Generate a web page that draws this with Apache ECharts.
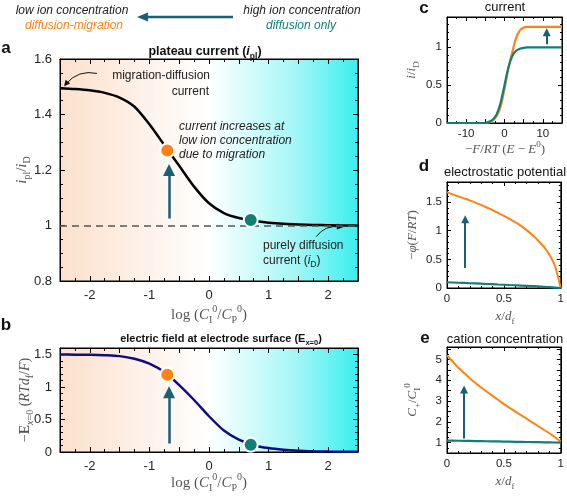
<!DOCTYPE html>
<html><head><meta charset="utf-8">
<script src="https://cdn.jsdelivr.net/npm/echarts@6/dist/echarts.min.js"></script>
<style>html,body{margin:0;padding:0;background:#fff}#c{width:567px;height:497px}</style>
</head><body><div id="c"></div>
<script>
// ---------------- data ----------------
const logRatio = [-2.5,-2.25,-2,-1.75,-1.5,-1.25,-1,-0.75,-0.5,-0.25,0,0.25,0.5,0.75,1,1.25,1.5,1.75,2,2.25,2.5];
const plateauCurrent = [1.495,1.492,1.487,1.478,1.461,1.428,1.365,1.29,1.215,1.14,1.08,1.045,1.027,1.017,1.01,1.006,1.004,1.002,1.001,1.0,1.0];
const surfaceField = [1.5,1.498,1.495,1.488,1.475,1.435,1.36,1.23,1.03,0.8,0.55,0.33,0.19,0.105,0.06,0.035,0.02,0.012,0.007,0.004,0.002];
const lowIonA = [-0.7, 1.27];
const highIonA = [0.7, 1.02];
const lowIonB = [-0.7, 1.19];
const highIonB = [0.7, 0.11];
const diffusionLevel = 1;

const drivingForce = [-15,-14,-13,-12,-11,-10,-9,-8,-7,-6,-5,-4,-3,-2,-1,0,1,2,3,4,5,6,7,8,9,10,11,12,13,14,15];
const currentHigh = [0,0,0,0,0,0,0,0,0,0,0,0.018,0.047,0.12,0.27,0.5,0.73,0.88,0.953,0.982,0.993,0.998,1,1,1,1,1,1,1,1,1];
const currentLow  = [0,0,0,0,0,0,0,0,0,0,0,0.012,0.035,0.095,0.22,0.45,0.72,0.93,1.12,1.22,1.26,1.27,1.27,1.27,1.27,1.27,1.27,1.27,1.27,1.27,1.27];

const distance = [0,0.05,0.1,0.15,0.2,0.25,0.3,0.35,0.4,0.45,0.5,0.55,0.6,0.65,0.7,0.75,0.8,0.85,0.9,0.95,1];
const potentialLow  = [1.67,1.635,1.6,1.565,1.53,1.49,1.45,1.405,1.36,1.31,1.26,1.205,1.15,1.085,1.01,0.925,0.83,0.72,0.58,0.38,0];
const potentialHigh = [0.1,0.096,0.092,0.088,0.083,0.079,0.075,0.07,0.066,0.061,0.057,0.052,0.048,0.043,0.038,0.033,0.027,0.021,0.015,0.008,0];
const cationLow  = [5.2,4.9,4.6,4.35,4.1,3.87,3.65,3.45,3.25,3.05,2.85,2.67,2.5,2.32,2.15,1.97,1.8,1.62,1.45,1.25,1.05];
const cationHigh = [1.1,1.095,1.09,1.085,1.08,1.075,1.07,1.065,1.06,1.055,1.05,1.045,1.04,1.035,1.03,1.025,1.02,1.015,1.01,1.005,1.0];

const arrowA = [[-0.67,1.025],[-0.67,1.2]];
const arrowB = [[-0.67,0.13],[-0.67,0.92]];
const arrowC = [[11,1.04],[11,1.2]];
const arrowD = [[0.16,0.35],[0.16,1.2]];
const arrowE = [[0.15,1.2],[0.15,3.55]];
const pointerMig = [[-1.88,1.548],[-2.4,1.51]];
const pointerDiff = [[1.8,0.96],[2.2,0.995]];

const ticksLog = [-2,-1,0,1,2];
const ticksAY = [0.8,1,1.2,1.4,1.6];
const ticksBY = [0,0.5,1,1.5];
const ticksCX = [-10,0,10];
const ticksCY = [0,0.5,1];
const ticksFrac = [0,0.5,1];
const ticksDY = [0,0.5,1,1.5];
const ticksEY = [1,2,3,4,5];

// ---------------- styles ----------------
const SANS = '"Liberation Sans", Arial, sans-serif';
const SERIF = '"Liberation Serif", "DejaVu Serif", serif';
const MATH = '#555';
const ORANGE = '#ff8214';
const TEAL = '#0f7f78';
const ARROW = '#1a5f78';
const bgGrad = {type:'linear', x:0, y:0, x2:1, y2:0, colorStops:[
  {offset:0, color:'#fce0cc'}, {offset:0.5, color:'#ffffff'}, {offset:0.78, color:'#a8f7f7'}, {offset:1, color:'#3aeeee'}]};

const zip = (xs, ys) => xs.map((x,i)=>[x, ys[i]]);
function labelFor(v, list){ for (const t of list) if (Math.abs(t - v) < 1e-6) return String(t); return ''; }

function axisPair(kind, grid, o){
  const common = {
    gridIndex: grid, type:'value', min:o.min, max:o.max, interval:o.interval,
    axisLine:{show:true, onZero:false, lineStyle:{color:'#000', width:1}},
    axisTick:{show:true, inside:true, length:o.tl||5, lineStyle:{color:'#000', width:1}},
    minorTick:{show:true, splitNumber:o.minor||2, length:o.ml||3, lineStyle:{color:'#000', width:1}},
    splitLine:{show:false}, minorSplitLine:{show:false}
  };
  const main = Object.assign({}, common, {
    position: kind === 'x' ? 'bottom' : 'left',
    axisLabel:{show:true, color:'#222', fontFamily:SANS, fontSize:o.fs, margin:o.margin||6,
      showMinLabel:true, showMaxLabel:true, formatter: v => labelFor(v, o.labels)}
  });
  const mirror = Object.assign({}, common, {position: kind === 'x' ? 'top' : 'right', axisLabel:{show:false}});
  return [main, mirror];
}

const grids = [
  {left:60, top:59, width:298, height:222, show:true, backgroundColor:bgGrad, borderColor:'#000', borderWidth:1},
  {left:60, top:348, width:298, height:104, show:true, backgroundColor:bgGrad, borderColor:'#000', borderWidth:1},
  {left:447, top:17, width:115, height:106, show:true, backgroundColor:'#fff', borderColor:'#000', borderWidth:1},
  {left:447, top:182, width:115, height:106, show:true, backgroundColor:'#fff', borderColor:'#000', borderWidth:1},
  {left:447, top:347, width:115, height:106, show:true, backgroundColor:'#fff', borderColor:'#000', borderWidth:1}
];

const xAxes = [].concat(
  axisPair('x',0,{min:-2.5,max:2.5,interval:0.5,minor:2,labels:ticksLog,fs:13,margin:8,tl:5}),
  axisPair('x',1,{min:-2.5,max:2.5,interval:0.5,minor:2,labels:ticksLog,fs:13,margin:8,tl:5}),
  axisPair('x',2,{min:-15,max:15,interval:5,minor:2,labels:ticksCX,fs:11.5,margin:5,tl:4,ml:2}),
  axisPair('x',3,{min:0,max:1,interval:0.5,minor:5,labels:ticksFrac,fs:11.5,margin:5,tl:4,ml:2}),
  axisPair('x',4,{min:0,max:1,interval:0.5,minor:5,labels:ticksFrac,fs:11.5,margin:5,tl:4,ml:2})
);
const yAxes = [].concat(
  axisPair('y',0,{min:0.8,max:1.6,interval:0.2,minor:4,labels:ticksAY,fs:13,margin:8,tl:5}),
  axisPair('y',1,{min:0,max:1.6,interval:0.5,minor:5,labels:ticksBY,fs:13,margin:8,tl:5}),
  axisPair('y',2,{min:0,max:1.4,interval:0.5,minor:5,labels:ticksCY,fs:11.5,margin:5,tl:4,ml:2}),
  axisPair('y',3,{min:0,max:1.85,interval:0.5,minor:5,labels:ticksDY,fs:11.5,margin:5,tl:4,ml:2}),
  axisPair('y',4,{min:0.5,max:5.6,interval:0.5,minor:2,labels:ticksEY,fs:11.5,margin:5,tl:4,ml:2})
);

function lineSeries(ax, data, color, width, smooth){
  return {type:'line', xAxisIndex:ax, yAxisIndex:ax, data, showSymbol:false, symbol:'none',
    smooth:smooth === undefined ? 0.25 : smooth, lineStyle:{color, width:width||2.5}, z:3, silent:true};
}
function dot(ax, pt, color){
  return {type:'scatter', xAxisIndex:ax, yAxisIndex:ax, data:[pt], symbolSize:14, z:5, silent:true,
    itemStyle:{color, borderColor:'#fff', borderWidth:2, opacity:1}};
}
function arrow(ax, pts, width, head, curveness, color){
  return {type:'lines', coordinateSystem:'cartesian2d', xAxisIndex:ax, yAxisIndex:ax, z:4, silent:true,
    symbol:['none','triangle'], symbolSize:head,
    lineStyle:{color:color||ARROW, width, curveness:curveness||0, opacity:1},
    data:[{coords:pts}]};
}

const series = [
  // panel a
  {type:'line', xAxisIndex:0, yAxisIndex:0, data:[], silent:true,
   markLine:{silent:true, symbol:'none', label:{show:false},
     lineStyle:{color:'#555', type:[7,5], width:1.5}, data:[{yAxis:diffusionLevel}]}},
  lineSeries(0, zip(logRatio, plateauCurrent), '#000', 2.5),
  dot(0, lowIonA, ORANGE),
  dot(0, highIonA, TEAL),
  arrow(0, arrowA, 2.5, 12),
  arrow(0, pointerMig, 1, 6, -0.3, '#111'),
  arrow(0, pointerDiff, 1, 6, 0.3, '#111'),
  // panel b
  lineSeries(2, zip(logRatio, surfaceField), '#0d0d82', 2.5),
  dot(2, lowIonB, ORANGE),
  dot(2, highIonB, TEAL),
  arrow(2, arrowB, 2.5, 12),
  // panel c
  lineSeries(4, zip(drivingForce, currentLow), ORANGE, 2.2),
  lineSeries(4, zip(drivingForce, currentHigh), TEAL, 2.2),
  arrow(4, arrowC, 2, 8),
  // panel d
  lineSeries(6, zip(distance, potentialLow), ORANGE, 2, 0.15),
  lineSeries(6, zip(distance, potentialHigh), TEAL, 2.2, 0),
  arrow(6, arrowD, 2, 8),
  // panel e
  lineSeries(8, zip(distance, cationLow), ORANGE, 2, 0.15),
  lineSeries(8, zip(distance, cationHigh), TEAL, 2.2, 0),
  arrow(8, arrowE, 2, 8)
];

// ---------------- text ----------------
function mathRich(sz){
  const small = Math.round(sz*0.68);
  const base = {fontFamily:SERIF, fill:MATH, fontSize:sz, lineHeight:sz+6, verticalAlign:'middle'};
  const sb = {fontFamily:SERIF, fill:MATH, fontSize:small, lineHeight:small+1};
  return {
    i:Object.assign({}, base, {fontStyle:'italic'}),
    r:Object.assign({}, base),
    b:Object.assign({}, base, {fontWeight:'bold'}),
    s:Object.assign({}, sb, {verticalAlign:'bottom'}),
    si:Object.assign({}, sb, {verticalAlign:'bottom', fontStyle:'italic'}),
    u:Object.assign({}, sb, {verticalAlign:'top'})
  };
}
function T(x, y, text, opt){
  opt = opt || {};
  const st = {text, fill:opt.color||'#222', font:opt.font||('12px '+SANS),
    align:opt.align||'center', verticalAlign:'middle', textAlign:opt.align||'center', textVerticalAlign:'middle'};
  if (opt.rich) st.rich = opt.rich;
  return {type:'text', x, y, rotation:opt.rot||0, style:st, z:100, silent:true};
}
const logName = '{r|log }{r|(}{i|C}{s|I}{u|0}{r|/}{i|C}{s|P}{u|0}{r|)}';
const fracName = '{i|x}{r|/}{i|d}{s|f}';
const titleRichA = {b:{fontFamily:SANS, fontWeight:'bold', fontSize:12.5, fill:'#111', lineHeight:18, verticalAlign:'middle'},
  bi:{fontFamily:SANS, fontWeight:'bold', fontStyle:'italic', fontSize:12.5, fill:'#111', lineHeight:18, verticalAlign:'middle'},
  s:{fontFamily:SANS, fontWeight:'bold', fontSize:8.5, fill:'#111', lineHeight:9, verticalAlign:'bottom'}};
const titleRichB = {b:{fontFamily:SANS, fontWeight:'bold', fontSize:11, fill:'#111', lineHeight:16, verticalAlign:'middle'},
  s:{fontFamily:SANS, fontWeight:'bold', fontSize:7.5, fill:'#111', lineHeight:8, verticalAlign:'bottom'}};
const annRich = {n:{fontFamily:SANS, fontSize:12, fill:'#222', lineHeight:17, verticalAlign:'middle'},
  it:{fontFamily:SANS, fontSize:12, fontStyle:'italic', fill:'#222', lineHeight:17, verticalAlign:'middle'},
  s:{fontFamily:SANS, fontSize:8.5, fill:'#222', lineHeight:9, verticalAlign:'bottom'}};

const IT12 = 'italic 12px ' + SANS;
const graphic = [
  T(72, 11, 'low ion concentration', {font:IT12}),
  T(74, 26, 'diffusion-migration', {font:IT12, color:ORANGE}),
  T(302, 11, 'high ion concentration', {font:IT12}),
  T(301, 26, 'diffusion only', {font:IT12, color:TEAL}),
  {type:'line', shape:{x1:233, y1:17, x2:146, y2:17}, style:{stroke:ARROW, lineWidth:2.5}, silent:true},
  {type:'polygon', shape:{points:[[137,17],[148,12.5],[148,21.5]]}, style:{fill:ARROW}, silent:true},
  T(6, 48, 'a', {font:'bold 17px ' + SANS, color:'#111'}),
  T(6, 325, 'b', {font:'bold 17px ' + SANS, color:'#111'}),
  T(424, 8, 'c', {font:'bold 17px ' + SANS, color:'#111'}),
  T(424, 166, 'd', {font:'bold 17px ' + SANS, color:'#111'}),
  T(425, 338, 'e', {font:'bold 17px ' + SANS, color:'#111'}),
  T(205, 52, '{b|plateau current (}{bi|i}{s|pl}{b|)}', {rich:titleRichA}),
  T(221, 339, '{b|electric field at electrode surface (E}{s|x=0}{b|)}', {rich:titleRichB}),
  T(505, 7, 'current', {font:'13px ' + SANS, color:'#111'}),
  T(505, 172, 'electrostatic potential', {font:'13px ' + SANS, color:'#111'}),
  T(505, 339, 'cation concentration', {font:'13px ' + SANS, color:'#111'}),
  T(210, 76, 'migration-diffusion', {font:'12px ' + SANS, align:'right'}),
  T(209, 92, 'current', {font:'12px ' + SANS, align:'right'}),
  T(179, 127, 'current increases at', {font:IT12, align:'left'}),
  T(179, 141, 'low ion concentration', {font:IT12, align:'left'}),
  T(179, 155, 'due to migration', {font:IT12, align:'left'}),
  T(263, 246, 'purely diffusion', {font:'12px ' + SANS, align:'left'}),
  T(263, 261, '{n|current (}{it|i}{s|D}{n|)}', {rich:annRich, align:'left'}),
  // axis names
  T(22, 170, '{i|i}{s|pl}{r|/}{i|i}{s|D}', {rich:mathRich(15), rot:Math.PI/2}),
  T(25, 400, '{r|−}{b|E}{si|x}{s|=0}{r| (}{i|RTd}{s|f}{r|/}{i|F}{r|)}', {rich:mathRich(14), rot:Math.PI/2}),
  T(209, 315, logName, {rich:mathRich(15)}),
  T(209, 483, logName, {rich:mathRich(15)}),
  T(412, 70, '{i|i}{r|/}{i|i}{s|D}', {rich:mathRich(13), rot:Math.PI/2}),
  T(505, 150, '{r|−}{i|F}{r|/}{i|RT}{r| (}{i|E}{r| − }{i|E}{u|0}{r|)}', {rich:mathRich(13)}),
  T(413, 235, '{r|−}{i|φ}{r|(}{i|F}{r|/}{i|RT}{r|)}', {rich:mathRich(13), rot:Math.PI/2}),
  T(505, 317, fracName, {rich:mathRich(13)}),
  T(413, 400, '{i|C}{s|+}{r|/}{i|C}{s|I}{u|0}', {rich:mathRich(13), rot:Math.PI/2}),
  T(505, 482, fracName, {rich:mathRich(13)})
];

const chart = echarts.init(document.getElementById('c'), null, {renderer:'canvas'});
chart.setOption({
  animation:false,
  backgroundColor:'#fff',
  grid:grids, xAxis:xAxes, yAxis:yAxes, series, graphic
});
</script></body></html>
